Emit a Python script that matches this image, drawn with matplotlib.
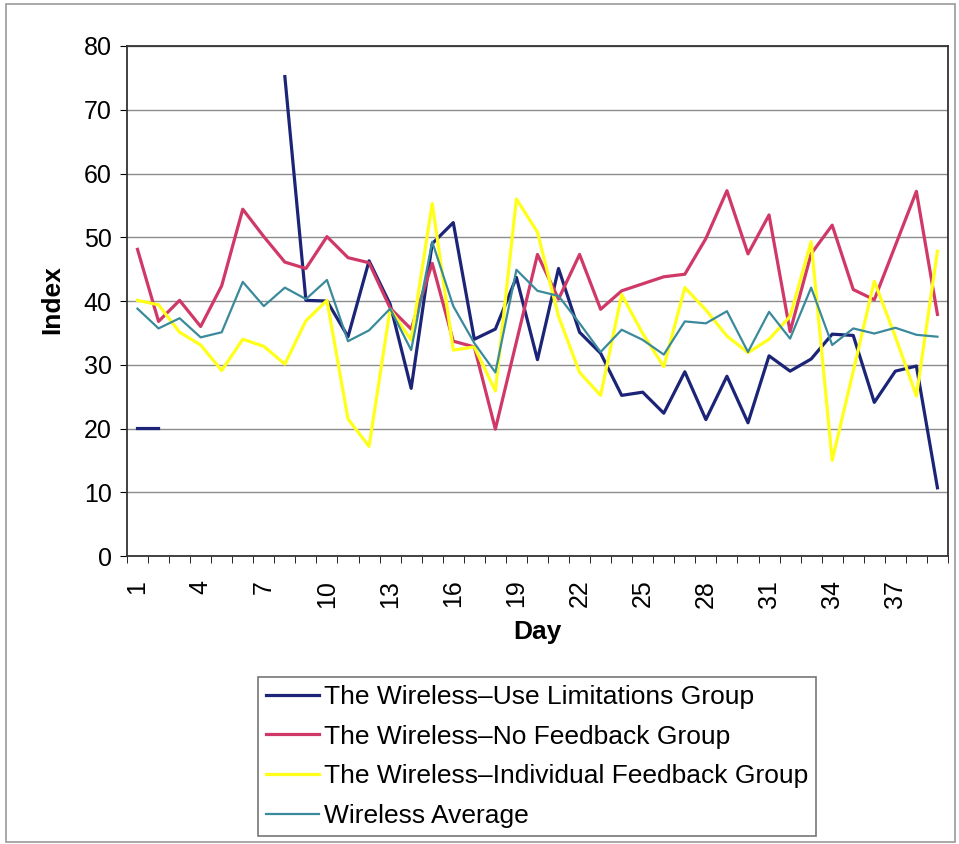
import numpy as np
import matplotlib.pyplot as plt
from matplotlib.patches import Rectangle

plt.rcParams['font.family'] = ['Liberation Sans', 'DejaVu Sans']

days = np.arange(1, 40)
nan = np.nan

use_limits = [20.0, 20.0, nan, nan, nan, nan, nan, 75.2, 40.1, 40.0,
              34.4, 46.3, 39.5, 26.3, 49.0, 52.3, 34.0, 35.6, 43.7, 30.8,
              45.1, 35.1, 31.8, 25.2, 25.7, 22.4, 28.9, 21.4, 28.2, 20.9,
              31.4, 29.0, 30.9, 34.8, 34.6, 24.1, 29.0, 29.8, 10.7]
no_feedback = [48.1, 36.8, 40.1, 36.0, 42.4, 54.4, 50.1, 46.1, 45.1, 50.1,
               46.8, 46.0, 38.9, 35.6, 45.9, 33.7, 32.8, 19.9, 33.6, 47.3,
               40.3, 47.3, 38.7, 41.6, 42.7, 43.8, 44.2, 49.8, 57.3, 47.4,
               53.5, 35.2, 47.4, 51.9, 41.8, 40.2, 48.7, 57.2, 37.9]
indiv_feedback = [40.1, 39.4, 35.1, 33.1, 29.1, 34.0, 32.9, 30.1, 36.9, 40.1,
                  21.5, 17.2, 38.7, 33.9, 55.3, 32.3, 32.8, 25.9, 56.0, 50.8,
                  37.6, 28.8, 25.2, 41.0, 34.9, 29.7, 42.1, 38.6, 34.5, 31.9,
                  34.0, 37.6, 49.3, 15.0, 29.0, 43.1, 34.4, 25.1, 47.8]
average = [38.8, 35.7, 37.3, 34.3, 35.1, 43.0, 39.2, 42.1, 40.3, 43.3,
           33.7, 35.4, 38.8, 32.3, 49.3, 39.2, 33.4, 28.8, 44.9, 41.6,
           40.8, 36.5, 32.0, 35.5, 33.9, 31.6, 36.8, 36.5, 38.4, 32.0,
           38.3, 34.1, 42.1, 33.1, 35.7, 34.9, 35.8, 34.7, 34.4]

labels = ['The Wireless\u2013Use Limitations Group',
          'The Wireless\u2013No Feedback Group',
          'The Wireless\u2013Individual Feedback Group',
          'Wireless Average']

fig = plt.figure(figsize=(9.59, 8.44), dpi=100)
fig.patches.append(Rectangle((0.006, 0.002), 0.99, 0.993, transform=fig.transFigure,
                             fill=False, edgecolor='#9a9a9a', linewidth=1.2))
ax = fig.add_axes([0.1324, 0.3412, 0.8561, 0.6043])

ax.plot(days, use_limits, color='#1c2477', lw=2.3, label=labels[0])
ax.plot(days, no_feedback, color='#d03868', lw=2.3, label=labels[1])
ax.plot(days, indiv_feedback, color='#ffff1a', lw=2.3, label=labels[2])
ax.plot(days, average, color='#3a8a9c', lw=1.6, label=labels[3])

ax.set_xlim(0.5, 39.5)
ax.set_ylim(0, 80)
ax.set_yticks(range(0, 81, 10))
ax.set_xticks(days[::3])
ax.set_xticks(np.arange(0.5, 40, 1), minor=True)
ax.set_xticklabels([str(d) for d in days[::3]], rotation=90)
ax.tick_params(axis='x', which='major', length=0, labelsize=18, pad=17)
ax.tick_params(axis='x', which='minor', length=5, direction='out')
ax.tick_params(axis='y', labelsize=18, length=5, direction='out', pad=6)
ax.yaxis.grid(True, color='#8c8c8c', lw=1)
ax.set_axisbelow(True)
for s in ax.spines.values():
    s.set_color('#333333')
    s.set_linewidth(1.3)

# axis titles placed where they sit in the original
fig.text(537 / 959, 1 - 632 / 844, 'Day', fontsize=19, fontweight='bold',
         ha='center', va='center')
fig.text(52 / 959, 1 - 300 / 844, 'Index', fontsize=19, fontweight='bold',
         rotation=90, ha='center', va='center')

leg = fig.legend(loc='upper left', bbox_to_anchor=(0.269, 0.198), fontsize=19,
                 frameon=True, fancybox=False, edgecolor='#555555',
                 handlelength=2.0, handletextpad=0.2, labelspacing=0.6,
                 borderpad=0.3, borderaxespad=0)
leg.get_frame().set_linewidth(1.2)

fig.savefig('out.png', dpi=100)
